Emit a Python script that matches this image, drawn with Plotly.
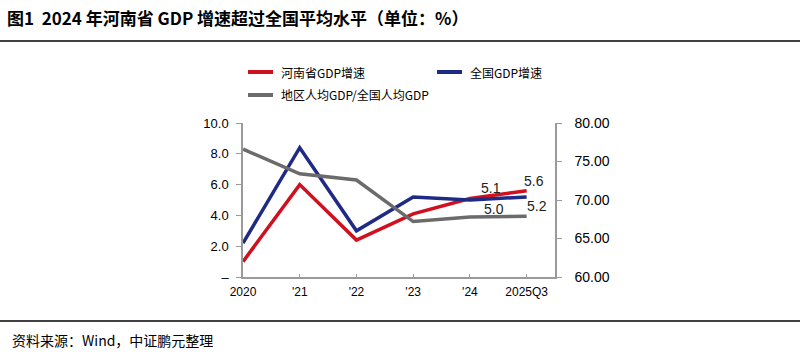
import plotly.graph_objects as go

categories = ["2020", "'21", "'22", "'23", "'24", "2025Q3"]
henan_growth = [1.0, 6.0, 2.4, 4.1, 5.1, 5.6]
national_growth = [2.2, 8.4, 3.0, 5.2, 5.0, 5.2]
per_capita_ratio = [76.6, 73.4, 72.6, 67.2, 67.8, 67.9]

left_ticks = [0, 2, 4, 6, 8, 10]
left_ticktext = ["–", "2.0", "4.0", "6.0", "8.0", "10.0"]
right_ticks = [60, 65, 70, 75, 80]

xpos = list(range(len(categories)))

W, H = 804, 354
L, R, T, B = 243, 555, 123, 277

def px(x):
    return (x - L) / (R - L)

def py(y):
    return (B - y) / (B - T)

RED = "#D0101E"
BLUE = "#1F2A84"
GRAY = "#6B6B6B"
AXIS = "#9A9A9A"
FONT = "Noto Sans CJK SC"

fig = go.Figure()
fig.add_trace(go.Scatter(x=xpos, y=henan_growth, mode="lines", line=dict(color=RED, width=3.5), yaxis="y", showlegend=False))
fig.add_trace(go.Scatter(x=xpos, y=national_growth, mode="lines", line=dict(color=BLUE, width=3.5), yaxis="y", showlegend=False))
fig.add_trace(go.Scatter(x=xpos, y=per_capita_ratio, mode="lines", line=dict(color=GRAY, width=3.5), yaxis="y2", showlegend=False))

annotations = []
shapes = []

# title
annotations.append(dict(xref="paper", yref="paper", x=px(5), y=py(18), xanchor="left", yanchor="middle",
                        text="<b>图1  2024 年河南省 GDP 增速超过全国平均水平（单位：%）</b>", showarrow=False,
                        font=dict(family=FONT, size=17, color="black")))
# source
annotations.append(dict(xref="paper", yref="paper", x=px(10), y=py(340), xanchor="left", yanchor="middle",
                        text="资料来源：Wind，中证鹏元整理", showarrow=False,
                        font=dict(family=FONT, size=14, color="black")))
# horizontal rules
shapes.append(dict(type="line", xref="paper", yref="paper", x0=px(0), x1=px(800), y0=py(41), y1=py(41), line=dict(color="black", width=1.5)))
shapes.append(dict(type="line", xref="paper", yref="paper", x0=px(0), x1=px(800), y0=py(321), y1=py(321), line=dict(color="black", width=1.5)))

# legend
legend_items = [("河南省GDP增速", RED, 248, 72), ("全国GDP增速", BLUE, 437, 72), ("地区人均GDP/全国人均GDP", GRAY, 248, 95)]
for name, col, lx, ly in legend_items:
    shapes.append(dict(type="line", xref="paper", yref="paper", x0=px(lx), x1=px(lx + 25), y0=py(ly), y1=py(ly), line=dict(color=col, width=4)))
    annotations.append(dict(xref="paper", yref="paper", x=px(lx + 31), y=py(ly), xanchor="left", yanchor="middle",
                            text=name, showarrow=False, font=dict(family=FONT, size=12, color="black")))

# data labels
label_specs = [(henan_growth, 4, 21, 10), (henan_growth, 5, 7, 10), (national_growth, 4, 24, -9), (national_growth, 5, 10, -9)]
for series, i, xs, ys in label_specs:
    annotations.append(dict(x=xpos[i], y=series[i], xref="x", yref="y", text=f"{series[i]:.1f}", showarrow=False,
                            xshift=xs, yshift=ys, font=dict(family="Liberation Sans", size=14, color="#222")))

fig.update_layout(
    width=W, height=H,
    margin=dict(l=L, r=W - R, t=T, b=H - B),
    paper_bgcolor="white", plot_bgcolor="white",
    showlegend=False,
    xaxis=dict(range=[0, 5.5], tickmode="array", tickvals=xpos, ticktext=categories,
               showgrid=False, zeroline=False, showline=True, linecolor=AXIS, linewidth=1.5,
               ticks="inside", ticklen=3, tickcolor=AXIS, ticklabelstandoff=3,
               tickfont=dict(family="Liberation Sans", size=12, color="black")),
    yaxis=dict(range=[0, 10], tickmode="array", tickvals=left_ticks, ticktext=left_ticktext,
               showgrid=False, zeroline=False, showline=True, linecolor=AXIS, linewidth=1.5,
               ticks="outside", ticklen=5, tickcolor=AXIS, ticklabelstandoff=5,
               tickfont=dict(family="Liberation Sans", size=13, color="black")),
    yaxis2=dict(range=[60, 80], overlaying="y", side="right", tickmode="array", tickvals=right_ticks,
                tickformat=".2f", showgrid=False, zeroline=False, showline=True, linecolor=AXIS, linewidth=1.5,
                ticks="outside", ticklen=5, tickcolor=AXIS, ticklabelstandoff=10,
                tickfont=dict(family="Liberation Sans", size=14, color="black")),
    annotations=annotations, shapes=shapes,
)

fig.write_html("out.html")
